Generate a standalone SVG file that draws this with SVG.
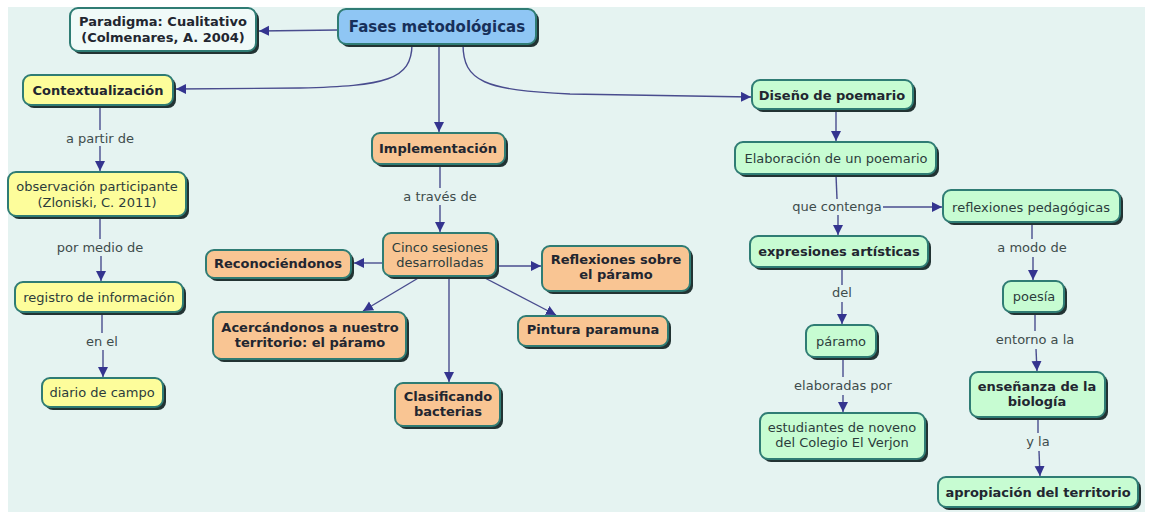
<svg xmlns="http://www.w3.org/2000/svg" width="1149" height="512" viewBox="0 0 1149 512">
<style>
  .bg{fill:#e5f3f1}
  .sh{fill:#223333}
  .box{stroke:#2f7c74;stroke-width:2}
  .blue{fill:#8fc6f4}
  .pale{fill:#f0faf8}
  .yel{fill:#fdfd9b}
  .org{fill:#f9c593}
  .grn{fill:#c7fcd2}
  text{font-family:"DejaVu Sans",Verdana,sans-serif;font-size:13px;text-anchor:middle}
  .b{font-weight:bold;fill:#222630}
  .r{fill:#2c3c3c}
  .t{fill:#17305a;font-weight:bold;font-size:15px}
  .lbl{fill:#3e4c4c}
  .ln{fill:none;stroke:#494c8e;stroke-width:1.4}
</style>
<defs>
  <marker id="ah" markerUnits="userSpaceOnUse" markerWidth="11" markerHeight="11" refX="10" refY="5" orient="auto">
    <path d="M0,0 L10,5 L0,10 z" fill="#34348f"/>
  </marker>
</defs>
<rect x="8" y="7" width="1137" height="505" class="bg"/>

<g id="connectors">
  <path class="ln" d="M338,30 L259,31" marker-end="url(#ah)"/>
  <path class="ln" d="M412,44 C412,80 385,86 300,88 L176,89" marker-end="url(#ah)"/>
  <path class="ln" d="M439,44 L439,132" marker-end="url(#ah)"/>
  <path class="ln" d="M463,44 C463,82 485,90 570,94 L751,97" marker-end="url(#ah)"/>
  <path class="ln" d="M100,105 L100,130"/>
  <path class="ln" d="M100,146 L100,171" marker-end="url(#ah)"/>
  <path class="ln" d="M100,217 L100,239"/>
  <path class="ln" d="M101,256 L101,281" marker-end="url(#ah)"/>
  <path class="ln" d="M102,313 L102,333"/>
  <path class="ln" d="M103,350 L103,377" marker-end="url(#ah)"/>
  <path class="ln" d="M440,165 L440,188"/>
  <path class="ln" d="M440,205 L440,232" marker-end="url(#ah)"/>
  <path class="ln" d="M383,263 L354,263" marker-end="url(#ah)"/>
  <path class="ln" d="M498,266 L541,266" marker-end="url(#ah)"/>
  <path class="ln" d="M420,277 L363,311" marker-end="url(#ah)"/>
  <path class="ln" d="M483,277 L556,315" marker-end="url(#ah)"/>
  <path class="ln" d="M449,277 L449,382" marker-end="url(#ah)"/>
  <path class="ln" d="M836,110 L836,141" marker-end="url(#ah)"/>
  <path class="ln" d="M836,175 L837,199"/>
  <path class="ln" d="M838,215 L838,235" marker-end="url(#ah)"/>
  <path class="ln" d="M883,207 L942,207" marker-end="url(#ah)"/>
  <path class="ln" d="M842,268 L842,285"/>
  <path class="ln" d="M842,302 L842,324" marker-end="url(#ah)"/>
  <path class="ln" d="M843,358 L843,377"/>
  <path class="ln" d="M843,395 L843,412" marker-end="url(#ah)"/>
  <path class="ln" d="M1032,223 L1032,239"/>
  <path class="ln" d="M1033,257 L1033,280" marker-end="url(#ah)"/>
  <path class="ln" d="M1035,313 L1035,331"/>
  <path class="ln" d="M1036,349 L1037,371" marker-end="url(#ah)"/>
  <path class="ln" d="M1038,418 L1038,433"/>
  <path class="ln" d="M1039,451 L1040,476" marker-end="url(#ah)"/>
</g>

<g id="lbl-apartir"><text class="lbl" x="100" y="143">a partir de</text></g>
<g id="lbl-pormedio"><text class="lbl" x="100" y="252">por medio de</text></g>
<g id="lbl-enel"><text class="lbl" x="102" y="346">en el</text></g>
<g id="lbl-atraves"><text class="lbl" x="440" y="201">a través de</text></g>
<g id="lbl-quecontenga"><text class="lbl" x="837" y="211">que contenga</text></g>
<g id="lbl-del"><text class="lbl" x="842" y="297">del</text></g>
<g id="lbl-elaboradas"><text class="lbl" x="843" y="390">elaboradas por</text></g>
<g id="lbl-amodo"><text class="lbl" x="1032" y="252">a modo de</text></g>
<g id="lbl-entorno"><text class="lbl" x="1035" y="344">entorno a la</text></g>
<g id="lbl-yla"><text class="lbl" x="1038" y="446">y la</text></g>

<g id="n-fases"><rect class="sh" x="341" y="12" width="198" height="35" rx="8"/><rect class="box blue" x="338" y="9" width="198" height="35" rx="8"/><text class="t" x="437" y="32">Fases metodológicas</text></g>
<g id="n-paradigma"><rect class="sh" x="73" y="11" width="186" height="43" rx="8"/><rect class="box pale" x="70" y="8" width="186" height="43" rx="8"/><text class="b" x="163" y="26">Paradigma: Cualitativo</text><text class="b" x="163" y="42">(Colmenares, A. 2004)</text></g>
<g id="n-context"><rect class="sh" x="26" y="78" width="150" height="30" rx="8"/><rect class="box yel" x="23" y="75" width="150" height="30" rx="8"/><text class="b" x="98" y="95">Contextualización</text></g>
<g id="n-observ"><rect class="sh" x="11" y="175" width="178" height="44" rx="8"/><rect class="box yel" x="8" y="172" width="178" height="44" rx="8"/><text class="r" x="97" y="191">observación participante</text><text class="r" x="97" y="207">(Zloniski, C. 2011)</text></g>
<g id="n-registro"><rect class="sh" x="18" y="285" width="168" height="30" rx="8"/><rect class="box yel" x="15" y="282" width="168" height="30" rx="8"/><text class="r" x="99" y="302">registro de información</text></g>
<g id="n-diario"><rect class="sh" x="45" y="381" width="121" height="29" rx="8"/><rect class="box yel" x="42" y="378" width="121" height="29" rx="8"/><text class="r" x="102" y="397">diario de campo</text></g>

<g id="n-implement"><rect class="sh" x="375" y="136" width="133" height="31" rx="8"/><rect class="box org" x="372" y="133" width="133" height="31" rx="8"/><text class="b" x="438" y="153">Implementación</text></g>
<g id="n-cinco"><rect class="sh" x="386" y="236" width="113" height="43" rx="8"/><rect class="box org" x="383" y="233" width="113" height="43" rx="8"/><text class="r" x="440" y="252">Cinco sesiones</text><text class="r" x="440" y="267">desarrolladas</text></g>
<g id="n-recon"><rect class="sh" x="209" y="253" width="145" height="28" rx="8"/><rect class="box org" x="206" y="250" width="145" height="28" rx="8"/><text class="b" x="278" y="268">Reconociéndonos</text></g>
<g id="n-reflex"><rect class="sh" x="545" y="249" width="148" height="45" rx="8"/><rect class="box org" x="542" y="246" width="148" height="45" rx="8"/><text class="b" x="616" y="264">Reflexiones sobre</text><text class="b" x="616" y="279">el páramo</text></g>
<g id="n-acerc"><rect class="sh" x="216" y="315" width="193" height="47" rx="8"/><rect class="box org" x="213" y="312" width="193" height="47" rx="8"/><text class="b" x="310" y="332">Acercándonos a nuestro</text><text class="b" x="310" y="347">territorio: el páramo</text></g>
<g id="n-pintura"><rect class="sh" x="521" y="319" width="150" height="30" rx="8"/><rect class="box org" x="518" y="316" width="150" height="30" rx="8"/><text class="b" x="593" y="334">Pintura paramuna</text></g>
<g id="n-clasif"><rect class="sh" x="398" y="386" width="105" height="43" rx="8"/><rect class="box org" x="395" y="383" width="105" height="43" rx="8"/><text class="b" x="448" y="401">Clasificando</text><text class="b" x="448" y="416">bacterias</text></g>

<g id="n-diseno"><rect class="sh" x="755" y="83" width="161" height="29" rx="8"/><rect class="box grn" x="752" y="80" width="161" height="29" rx="8"/><text class="b" x="832" y="100">Diseño de poemario</text></g>
<g id="n-elab"><rect class="sh" x="738" y="145" width="201" height="32" rx="8"/><rect class="box grn" x="735" y="142" width="201" height="32" rx="8"/><text class="r" x="836" y="163">Elaboración de un poemario</text></g>
<g id="n-reflped"><rect class="sh" x="946" y="193" width="177" height="32" rx="8"/><rect class="box grn" x="943" y="190" width="177" height="32" rx="8"/><text class="r" x="1031" y="212">reflexiones pedagógicas</text></g>
<g id="n-expres"><rect class="sh" x="753" y="239" width="178" height="31" rx="8"/><rect class="box grn" x="750" y="236" width="178" height="31" rx="8"/><text class="b" x="839" y="256">expresiones artísticas</text></g>
<g id="n-poesia"><rect class="sh" x="1006" y="284" width="61" height="31" rx="8"/><rect class="box grn" x="1003" y="281" width="61" height="31" rx="8"/><text class="r" x="1034" y="301">poesía</text></g>
<g id="n-paramo"><rect class="sh" x="809" y="328" width="70" height="32" rx="8"/><rect class="box grn" x="806" y="325" width="70" height="32" rx="8"/><text class="r" x="841" y="346">páramo</text></g>
<g id="n-estud"><rect class="sh" x="763" y="416" width="165" height="46" rx="8"/><rect class="box grn" x="760" y="413" width="165" height="46" rx="8"/><text class="r" x="842" y="432">estudiantes de noveno</text><text class="r" x="842" y="447">del Colegio El Verjon</text></g>
<g id="n-ensen"><rect class="sh" x="973" y="375" width="135" height="45" rx="8"/><rect class="box grn" x="970" y="372" width="135" height="45" rx="8"/><text class="b" x="1037" y="391">enseñanza de la</text><text class="b" x="1037" y="406">biología</text></g>
<g id="n-aprop"><rect class="sh" x="941" y="480" width="200" height="30" rx="8"/><rect class="box grn" x="938" y="477" width="200" height="30" rx="8"/><text class="b" x="1038" y="497">apropiación del territorio</text></g>
</svg>
